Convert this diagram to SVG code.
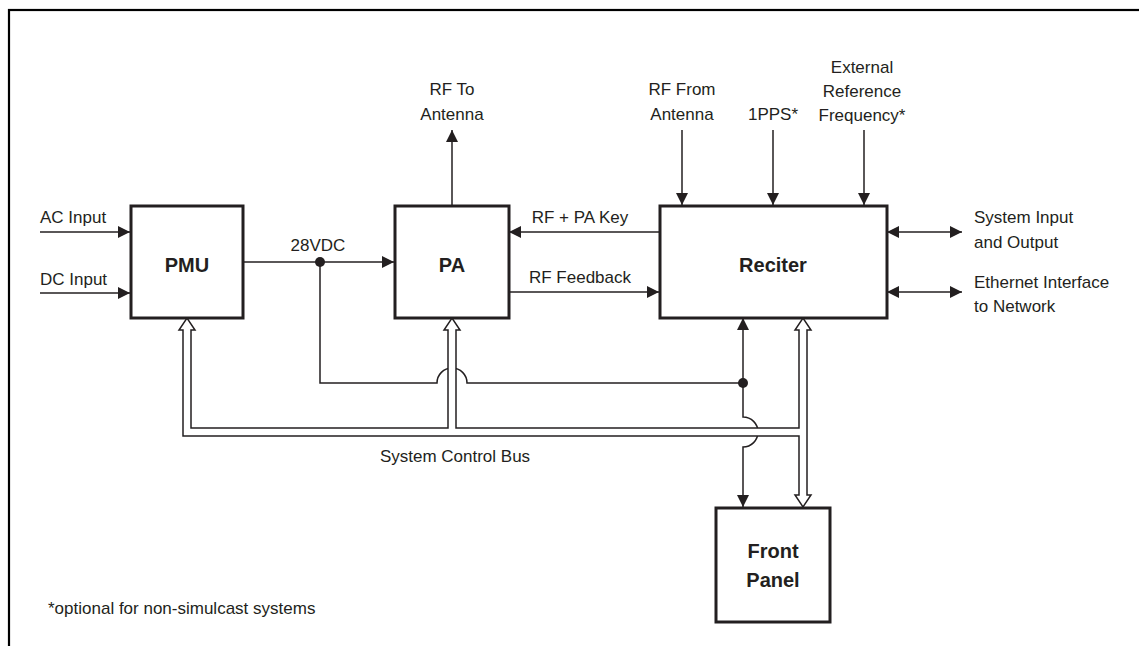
<svg xmlns="http://www.w3.org/2000/svg" width="1139" height="646" viewBox="0 0 1139 646">
<style>
.frame{fill:none;stroke:#000;stroke-width:2.2}
.box{fill:#fff;stroke:#231f20;stroke-width:3}
.ln{fill:none;stroke:#231f20;stroke-width:1.5}
.bus{fill:#fff;stroke:#231f20;stroke-width:1.5;stroke-linejoin:miter}
.t{font-family:"Liberation Sans",Arial,sans-serif;font-size:17px;fill:#231f20}
.m{text-anchor:middle}
.b{font-family:"Liberation Sans",Arial,sans-serif;font-size:20px;font-weight:bold;fill:#231f20;text-anchor:middle}
</style>
<defs>
<marker id="ah" viewBox="0 0 12 12" refX="12" refY="6" markerWidth="12" markerHeight="12" markerUnits="userSpaceOnUse" orient="auto-start-reverse">
<path d="M0,0 L12,6 L0,12 z" fill="#231f20"/>
</marker>
</defs>
<rect class="frame" x="9" y="10" width="1140" height="650"/>
<g id="connectors">
<path class="ln" d="M40,232 H130" marker-end="url(#ah)"/>
<path class="ln" d="M40,293 H130" marker-end="url(#ah)"/>
<path class="ln" d="M243,262 H394" marker-end="url(#ah)"/>
<path class="ln" d="M452,205 V130" marker-end="url(#ah)"/>
<path class="ln" d="M659,232 H509" marker-end="url(#ah)"/>
<path class="ln" d="M509,292 H659" marker-end="url(#ah)"/>
<path class="ln" d="M682,130 V205" marker-end="url(#ah)"/>
<path class="ln" d="M773,130 V205" marker-end="url(#ah)"/>
<path class="ln" d="M864,130 V205" marker-end="url(#ah)"/>
<path class="ln" d="M887,232 H962" marker-start="url(#ah)" marker-end="url(#ah)"/>
<path class="ln" d="M887,292 H962" marker-start="url(#ah)" marker-end="url(#ah)"/>
<path class="ln" d="M320,262 V383 H437 A15,15 0 0 1 467,383 H743"/>
<path class="ln" d="M743,383 V318" marker-end="url(#ah)"/>
<path class="ln" d="M743,383 V417 A15,15 0 0 1 743,447 V507" marker-end="url(#ah)"/>
<circle cx="320" cy="262" r="5" fill="#231f20"/>
<circle cx="743" cy="383" r="5" fill="#231f20"/>
<path class="bus" d="M799,428 H456 V330 H460 L452,318 L444,330 H448 V428 H191 V330 H195 L187,318 L179,330 H183 V436 H799 V495 H795 L803,507 L811,495 H807 V330 H811 L803,318 L795,330 H799 Z"/>
</g>
<g id="pmu">
<rect class="box" x="131" y="206" width="112" height="112"/>
<text class="b" x="187" y="272">PMU</text>
</g>
<g id="pa">
<rect class="box" x="395" y="206" width="114" height="112"/>
<text class="b" x="452" y="272">PA</text>
</g>
<g id="reciter">
<rect class="box" x="660" y="206" width="227" height="112"/>
<text class="b" x="773" y="272">Reciter</text>
</g>
<g id="front-panel">
<rect class="box" x="716" y="508" width="114" height="114"/>
<text class="b" x="773" y="558">Front</text>
<text class="b" x="773" y="587">Panel</text>
</g>
<g id="labels">
<text class="t" x="40" y="223">AC Input</text>
<text class="t" x="40" y="285">DC Input</text>
<text class="t m" x="318" y="251">28VDC</text>
<text class="t m" x="452" y="95">RF To</text>
<text class="t m" x="452" y="120">Antenna</text>
<text class="t m" x="682" y="95">RF From</text>
<text class="t m" x="682" y="120">Antenna</text>
<text class="t m" x="773" y="120">1PPS*</text>
<text class="t m" x="862" y="73">External</text>
<text class="t m" x="862" y="97">Reference</text>
<text class="t m" x="862" y="121">Frequency*</text>
<text class="t m" x="580" y="223">RF + PA Key</text>
<text class="t m" x="580" y="283">RF Feedback</text>
<text class="t" x="974" y="223">System Input</text>
<text class="t" x="974" y="248">and Output</text>
<text class="t" x="974" y="288">Ethernet Interface</text>
<text class="t" x="974" y="312">to Network</text>
<text class="t m" x="455" y="462">System Control Bus</text>
<text class="t" x="48" y="614">*optional for non-simulcast systems</text>
</g>
</svg>
